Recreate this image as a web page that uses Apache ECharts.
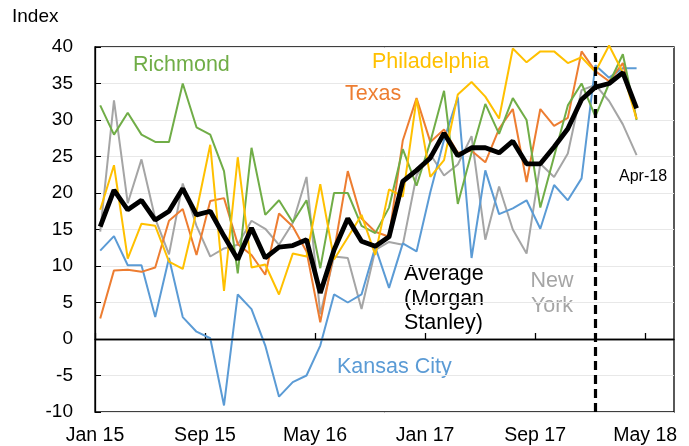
<!DOCTYPE html>
<html><head><meta charset="utf-8">
<script src="https://cdn.jsdelivr.net/npm/echarts@6/dist/echarts.min.js"></script>
<style>html,body{margin:0;padding:0;background:#fff}#c{width:689px;height:446px}</style>
</head><body><div id="c"></div>
<script>
// Monthly data, Jan 2015 .. Apr 2018 (40 months)
const tickLabels = ['Jan 15','Sep 15','May 16','Jan 17','Sep 17','May 18'];
const tickMonths = [0, 8, 16, 24, 32, 40];
const richmond = [32,28,31,28,27,27,35,29,28,23,9,26.2,17,19,16,19,9.7,20,20,15.5,14.5,18,26,21,27,34,18.5,25.5,32.2,28.1,33,30,18,25,32,35,30.5,35,39,30];
const philadelphia = [17.7,23.8,11,15.8,15.5,10.6,9.6,17.5,26.6,6.6,24.9,9.8,10.2,6.1,11.7,11.3,21.2,10.9,13.9,17,11.5,20.5,19.5,32.9,22.2,24.5,33.5,35.2,33.2,30.2,39.8,37.9,39.4,39.4,37.8,38.6,36.6,40.2,36.5,30.1];
const texas = [2.8,9.4,9.5,9.2,9.8,16.2,17.8,11.5,18.9,19.3,13,11.5,8.8,17.2,15.4,12,2.3,12,23,16.5,14.7,14,27.2,33,27,28.7,25.5,25.8,24.2,28.8,31.5,21.5,31.5,29.2,30.3,39.4,36.7,35.3,37.8,30.2];
const kansasCity = [12.1,14.1,10.1,10.1,3,11.1,3,1,0.1,-9.1,6.1,4.1,-0.9,-7.9,-5.9,-5,-0.9,6.1,5,6.1,12.6,7,13.1,12,20.1,27.3,33.1,11.1,23.1,17.1,17.9,19,15.1,21.1,19,22,37.5,35.8,37.1,37.1];
const newYork = [14.7,32.7,18.6,24.6,16.5,11.6,21.3,15.5,11.3,12.4,12.9,16.2,15.1,12.9,15.9,22.2,3.4,11.3,11.1,4.1,12.2,13.3,12.9,22.4,25.3,22.4,23.9,27.8,13.6,20.9,15,11.7,24,22.2,25.4,34.1,34.8,32.6,29.4,25.2];
const average = [15.4,20.4,17.7,19,16.3,17.5,20.6,17,17.5,14.1,10.9,15.2,11.1,12.6,12.8,13.6,6.3,12.2,16.5,13.4,12.7,14,21.6,23.1,24.8,28.2,25.1,26.2,26.2,25.5,27.1,24,24,26.3,28.8,32.8,34.5,35,36.5,31.6];
const markerMonth = 36; // Jan 18
const yTicks = {min: -10, max: 40, interval: 5};

const OFFSET = 0.38; // points plotted mid-month-ish
const FONT = "'Liberation Sans', Arial, sans-serif";
function pts(arr){ return arr.map((v,i)=>[i+OFFSET, v]); }
function line(name, arr, color, width, z){
  return {name, type:'line', data: pts(arr), showSymbol:false, symbol:'none', clip:false,
    lineStyle:{color, width}, itemStyle:{color}, z: z||2, animation:false};
}
const chart = echarts.init(document.getElementById('c'), null, {renderer:'canvas'});
const series = [
  line('New York', newYork, '#A5A5A5', 2),
  line('Kansas City', kansasCity, '#5B9BD5', 2),
  line('Texas', texas, '#ED7D31', 2),
  line('Richmond', richmond, '#70AD47', 2),
  line('Philadelphia', philadelphia, '#FFC000', 2),
  line('Average (Morgan Stanley)', average, '#000000', 4.8, 5)
];
series[0].markLine = {silent:true, symbol:'none', animation:false, label:{show:false},
  data:[{yAxis:0, lineStyle:{color:'#000', width:1.3, type:'solid'}}]};
series[5].markLine = {silent:true, symbol:'none', animation:false, label:{show:false},
  data:[{xAxis: markerMonth + OFFSET, lineStyle:{color:'#000', width:3.2, type:[9,5]}}]};

const LBL = 21.5;
chart.setOption({
  animation:false,
  backgroundColor:'#fff',
  grid:{left:95, top:47, right:15, bottom:31, show:true, borderColor:'#000', borderWidth:1.3, backgroundColor:'transparent'},
  xAxis:{type:'value', min:0, max:42.1,
    axisLine:{show:true, lineStyle:{color:'#000', width:1.3}},
    axisTick:{show:true, inside:true, length:6, lineStyle:{color:'#000', width:1.3}, customValues: tickMonths},
    axisLabel:{show:true, customValues: tickMonths, formatter: v => tickLabels[tickMonths.indexOf(Math.round(v))] || '',
      color:'#000', fontSize:19.5, fontFamily:FONT, margin:14},
    splitLine:{show:false}},
  yAxis:{type:'value', min:yTicks.min, max:yTicks.max, interval:yTicks.interval,
    axisLine:{show:true, onZero:false, lineStyle:{color:'#000', width:1.3}},
    axisTick:{show:true, inside:true, length:6, lineStyle:{color:'#000', width:1}},
    axisLabel:{color:'#000', fontSize:19, fontFamily:FONT, margin:22},
    splitLine:{show:true, lineStyle:{color:'#E8E8E8', width:1}}},
  series,
  graphic:[
    {type:'text', x:12, y:17, style:{text:'Index', fill:'#000', fontSize:19, fontFamily:FONT, verticalAlign:'middle'}},
    {type:'text', x:133, y:65, style:{text:'Richmond', fill:'#70AD47', fontSize:LBL, fontFamily:FONT, verticalAlign:'middle'}},
    {type:'text', x:372, y:62, style:{text:'Philadelphia', fill:'#FFC000', fontSize:LBL, fontFamily:FONT, verticalAlign:'middle'}},
    {type:'text', x:345, y:94, style:{text:'Texas', fill:'#ED7D31', fontSize:LBL, fontFamily:FONT, verticalAlign:'middle'}},
    {type:'text', x:404, y:299, style:{text:'Average\n(Morgan\nStanley)', fill:'#000', fontSize:LBL, lineHeight:24.5, fontFamily:FONT, verticalAlign:'middle'}},
    {type:'text', x:552, y:293.5, style:{text:'New\nYork', fill:'#A5A5A5', fontSize:LBL, lineHeight:25.5, align:'center', fontFamily:FONT, verticalAlign:'middle'}},
    {type:'text', x:337, y:367, style:{text:'Kansas City', fill:'#5B9BD5', fontSize:LBL, fontFamily:FONT, verticalAlign:'middle'}},
    {type:'text', x:619, y:177, style:{text:'Apr-18', fill:'#000', fontSize:16, fontFamily:FONT, verticalAlign:'middle'}}
  ]
});
</script></body></html>
